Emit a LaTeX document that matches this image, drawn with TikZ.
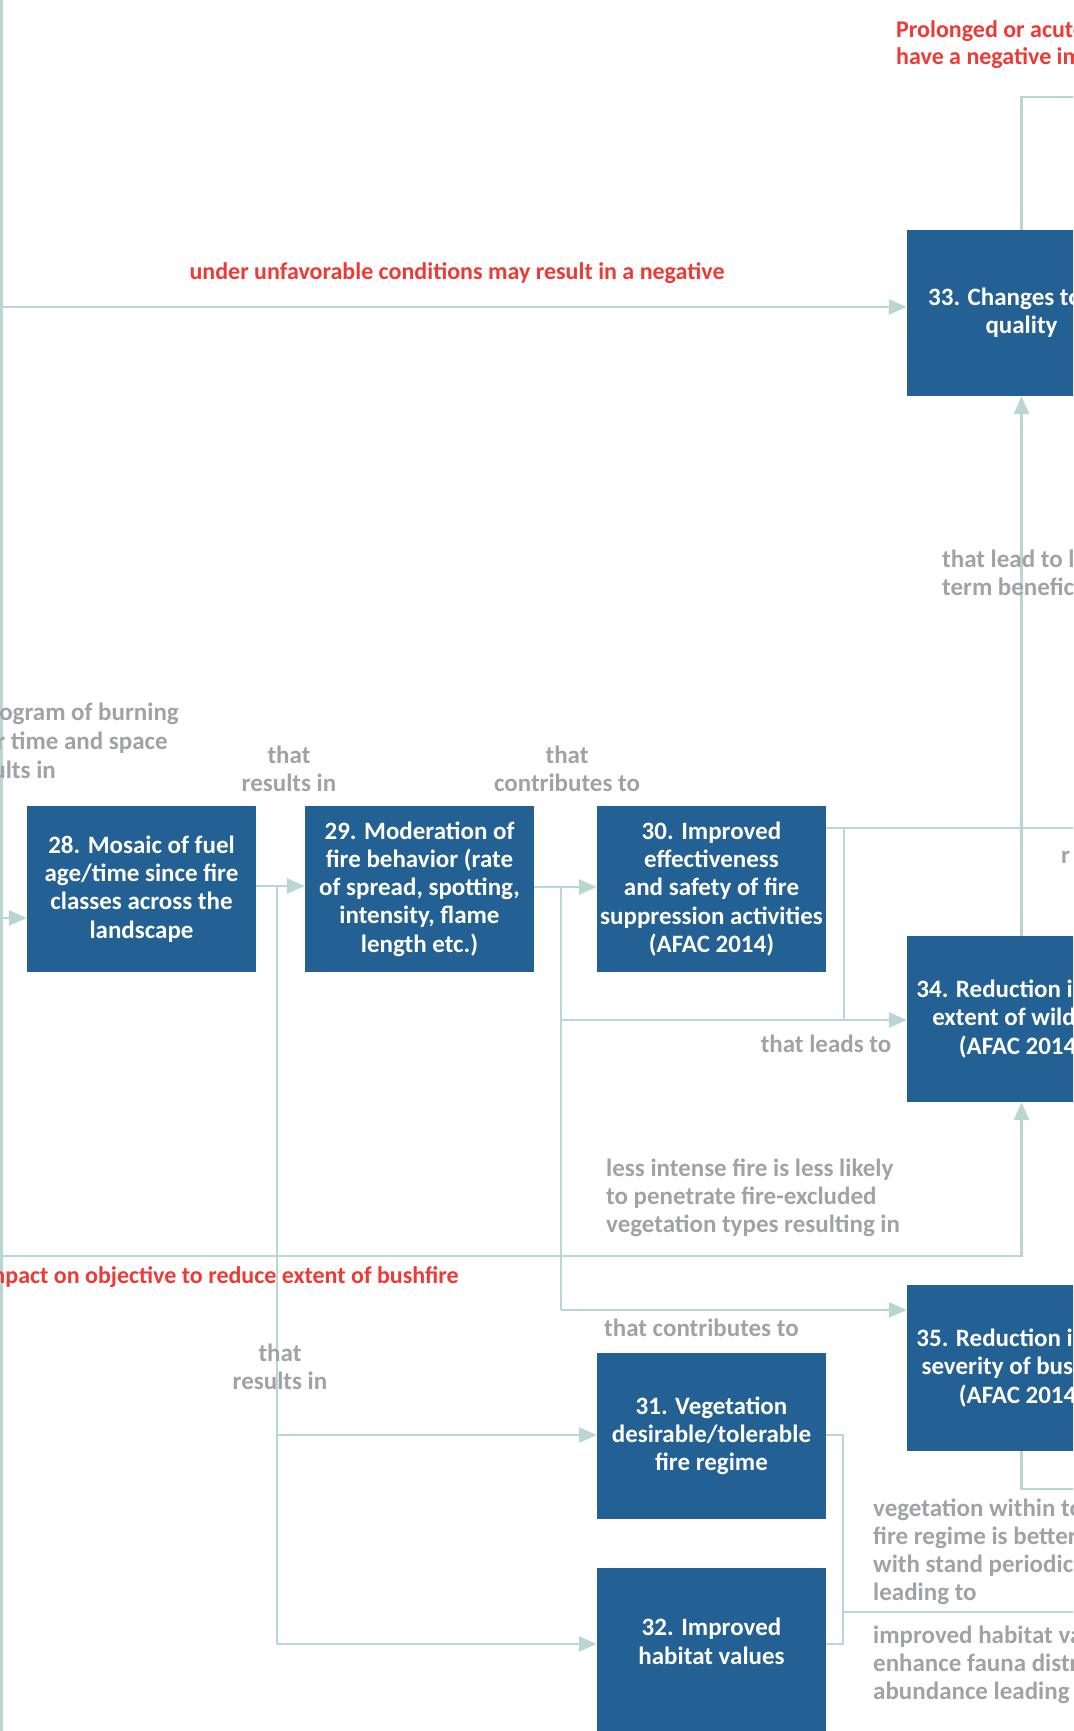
\documentclass[tikz,border=0pt]{standalone}
\usepackage{fontspec}
\setmainfont{Carlito}
\usetikzlibrary{arrows.meta}
\definecolor{boxblue}{RGB}{35,96,148}
\definecolor{linec}{RGB}{186,214,211}
\definecolor{labgray}{RGB}{160,162,166}
\definecolor{labred}{RGB}{238,58,53}
\begin{document}
\begin{tikzpicture}[x=1pt,y=-1pt,
  box/.style={fill=boxblue, text=white, font=\bfseries\fontsize{25}{28.3}\selectfont, align=center, minimum width=229pt, minimum height=166pt, inner sep=0pt},
  conn/.style={draw=linec, line width=2.8pt},
  arr/.style={conn, -{Triangle[length=18pt,width=15pt]}},
  glab/.style={text=labgray, font=\bfseries\fontsize{25}{27.8}\selectfont, inner sep=0pt},
  rlab/.style={text=labred, font=\bfseries\fontsize{24}{27}\selectfont, inner sep=0pt}]
\useasboundingbox (0,0) rectangle (1073,1731);
\clip (0,0) rectangle (1073,1731);

% boxes
\node[box] (b28) at (141.5,889) {28. Mosaic of fuel\\age/time since fire\\classes across the\\landscape};
\node[box] (b29) at (419.5,889) {29. Moderation of\\fire behavior (rate\\of spread, spotting,\\intensity, flame\\length etc.)};
\node[box] (b30) at (711.5,889) {30. Improved\\effectiveness\\and safety of fire\\suppression activities\\(AFAC 2014)};
\node[box] (b33) at (1021.5,313) {33. Changes to air\\quality};
\node[box] (b34) at (1021.5,1019) {34. Reduction in the\\extent of wildfire\\(AFAC 2014)};
\node[box] (b35) at (1021.5,1368) {35. Reduction in the\\severity of bushfire\\(AFAC 2014)};
\node[box] (b31) at (711.5,1436) {31. Vegetation\\desirable/tolerable\\fire regime};
\node[box, anchor=north, text depth=20pt] (b32) at (711.5,1568) {32. Improved\\habitat values};

% free ends and junctions
\coordinate (tl) at (1.2,0);
\coordinate (bl) at (1.2,1731);
\coordinate (e307) at (0,307);
\coordinate (e97) at (1073,97);
\coordinate (e828) at (1073,828);
\coordinate (e918) at (0,918);
\coordinate (e1256) at (0,1256);
\coordinate (e1489) at (1073,1489);
\coordinate (e1612) at (1073,1612);
\coordinate (j277a) at (277,886);
\coordinate (j277b) at (277,1435);
\coordinate (j277c) at (277,1644);
\coordinate (j561a) at (561,887);
\coordinate (j561b) at (561,1020);
\coordinate (j561c) at (561,1310);
\coordinate (j844a) at (844,828);
\coordinate (j844b) at (844,1020);
\coordinate (j843a) at (843,1435);
\coordinate (j843b) at (843,1644);
\coordinate (j843m) at (843,1612);

% connectors
\draw[conn] (tl) -- (bl);
\draw[arr] (e307) -- (e307 -| b33.west);
\draw[conn] (b33.north) -- (b33.north |- e97) -- (e97);
\draw[arr] (b34.north) -- (b33.south);
\draw[arr] (e918) -- (e918 -| b28.west);
\draw[arr] (b28.east |- j277a) -- (j277a -| b29.west);
\draw[conn] (j277a) -- (j277c);
\draw[arr] (j277b) -- (j277b -| b31.west);
\draw[arr] (j277c) -- (j277c -| b32.west);
\draw[arr] (b29.east |- j561a) -- (j561a -| b30.west);
\draw[conn] (j561a) -- (j561c);
\draw[arr] (j561b) -- (j561b -| b34.west);
\draw[arr] (j561c) -- (j561c -| b35.west);
\draw[conn] (b30.east |- e828) -- (e828);
\draw[conn] (j844a) -- (j844b);
\draw[arr] (e1256) -- (b34.south |- e1256) -- (b34.south);
\draw[conn] (b35.south) -- (b35.south |- e1489) -- (e1489);
\draw[conn] (b31.east |- j843a) -- (j843a) -- (j843b) -- (j843b -| b32.east);
\draw[conn] (j843m) -- (e1612);

% red labels
\node[rlab] (r1) at (457,273) {under unfavorable conditions may result in a negative};
\node[rlab, anchor=east] (r2) at (459,1277) {impact on objective to reduce extent of bushfire};
\node[rlab, anchor=west, align=left] (r3) at (896,45) {Prolonged or acute\\have a negative impact};

% gray labels
\node[glab, anchor=east] (g1a) at (179,714) {rogram of burning};
\node[glab, anchor=east] (g1b) at (168,743) {r time and space};
\node[glab, anchor=east] (g1c) at (56,770) {ults in};
\node[glab, align=center] (g2) at (289,769) {that\\results in};
\node[glab, align=center] (g3) at (567,769) {that\\contributes to};
\node[glab, anchor=west, align=left] (g4) at (942,573) {that lead to long\\term beneficial};
\node[glab, anchor=west] (g5) at (1061,857) {r};
\node[glab] (g6) at (826,1044) {that leads to};
\node[glab, anchor=west, align=left] (g7) at (606,1198) {less intense fire is less likely\\to penetrate fire-excluded\\vegetation types resulting in};
\node[glab, anchor=west] (g8) at (604,1328) {that contributes to};
\node[glab, align=center] (g9) at (280,1367) {that\\results in};
\node[glab, anchor=west, align=left] (g10) at (873,1552) {vegetation within tolerable\\fire regime is better able to\\with stand periodic burning\\leading to};
\node[glab, anchor=west, align=left] (g11) at (873,1665) {improved habitat values\\enhance fauna distribution\\abundance leading to};
\end{tikzpicture}
\end{document}
